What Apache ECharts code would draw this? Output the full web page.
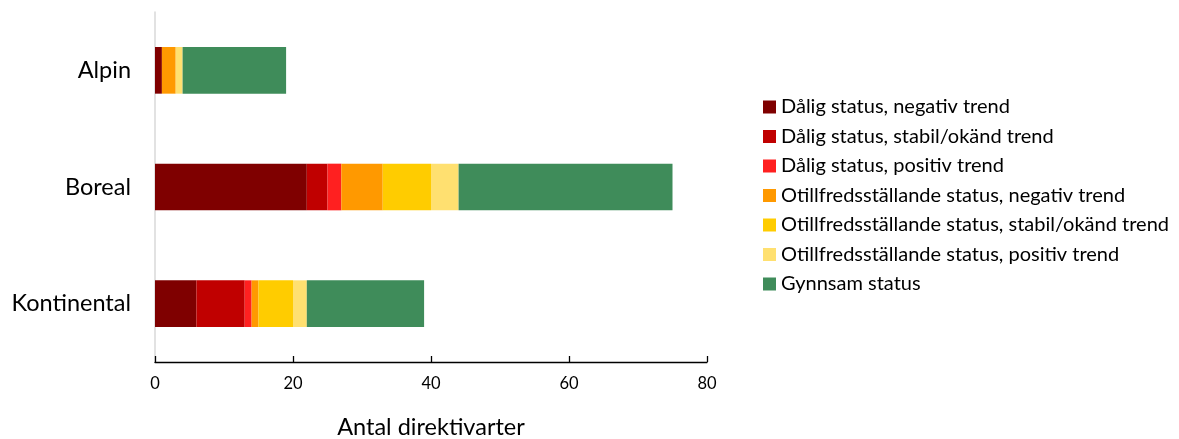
<!DOCTYPE html>
<html>
<head>
<meta charset="utf-8">
<script src="https://cdn.jsdelivr.net/npm/echarts@6/dist/echarts.min.js"></script>
<style>
  html, body { margin: 0; padding: 0; background: #ffffff; }
  #chart { width: 1179px; height: 439px; }
</style>
</head>
<body>
<div id="chart"></div>
<script>
// Regions (top to bottom)
const regions = ['Alpin', 'Boreal', 'Kontinental'];

// Number of directive species per status class, per region
const daligNegativ      = [1, 22, 6];
const daligStabil       = [0, 3, 7];
const daligPositiv      = [0, 2, 1];
const otillNegativ      = [2, 6, 1];
const otillStabil       = [0, 7, 5];
const otillPositiv      = [1, 4, 2];
const gynnsam           = [15, 31, 17];

const seriesNames = [
  'Dålig status, negativ trend',
  'Dålig status, stabil/okänd trend',
  'Dålig status, positiv trend',
  'Otillfredsställande status, negativ trend',
  'Otillfredsställande status, stabil/okänd trend',
  'Otillfredsställande status, positiv trend',
  'Gynnsam status'
];
const seriesValues = [daligNegativ, daligStabil, daligPositiv, otillNegativ, otillStabil, otillPositiv, gynnsam];
const seriesColors = ['#7f0000', '#c00000', '#ff2020', '#ff9900', '#ffcc00', '#ffe070', '#3f8c5a'];

const xTicks = [0, 20, 40, 60, 80];

const FONT = 'Lato, "Open Sans", sans-serif';

const chart = echarts.init(document.getElementById('chart'));
chart.setOption({
  animation: false,
  grid: { left: 155, right: 472, top: 12, bottom: 77, containLabel: false, outerBoundsMode: 'none' },
  legend: {
    orient: 'vertical',
    left: 763,
    top: 97,
    padding: 0,
    itemWidth: 13,
    itemHeight: 13,
    itemGap: 9.5,
    icon: 'rect',
    textStyle: { fontFamily: FONT, fontSize: 20, color: '#000', lineHeight: 20 },
    data: seriesNames
  },
  xAxis: {
    type: 'value',
    min: xTicks[0],
    max: xTicks[xTicks.length - 1],
    interval: 20,
    name: 'Antal direktivarter',
    nameLocation: 'middle',
    nameGap: 53,
    nameTextStyle: { fontFamily: FONT, fontSize: 23.5, color: '#000' },
    axisLine: { show: true, lineStyle: { color: '#000', width: 1.3 } },
    axisTick: { show: true, inside: true, length: 6, lineStyle: { color: '#000', width: 1.3 } },
    axisLabel: { fontFamily: FONT, fontSize: 16.5, color: '#000', margin: 13 },
    splitLine: { show: false }
  },
  yAxis: {
    type: 'category',
    data: regions,
    inverse: true,
    axisLine: { show: true, lineStyle: { color: '#d9d9d9', width: 1.5 } },
    axisTick: { show: false },
    axisLabel: { fontFamily: FONT, fontSize: 23.5, color: '#000', margin: 24 }
  },
  series: seriesNames.map((name, i) => ({
    name,
    type: 'bar',
    stack: 'total',
    barWidth: '40%',
    data: seriesValues[i],
    itemStyle: { color: seriesColors[i] }
  }))
});
</script>
</body>
</html>
